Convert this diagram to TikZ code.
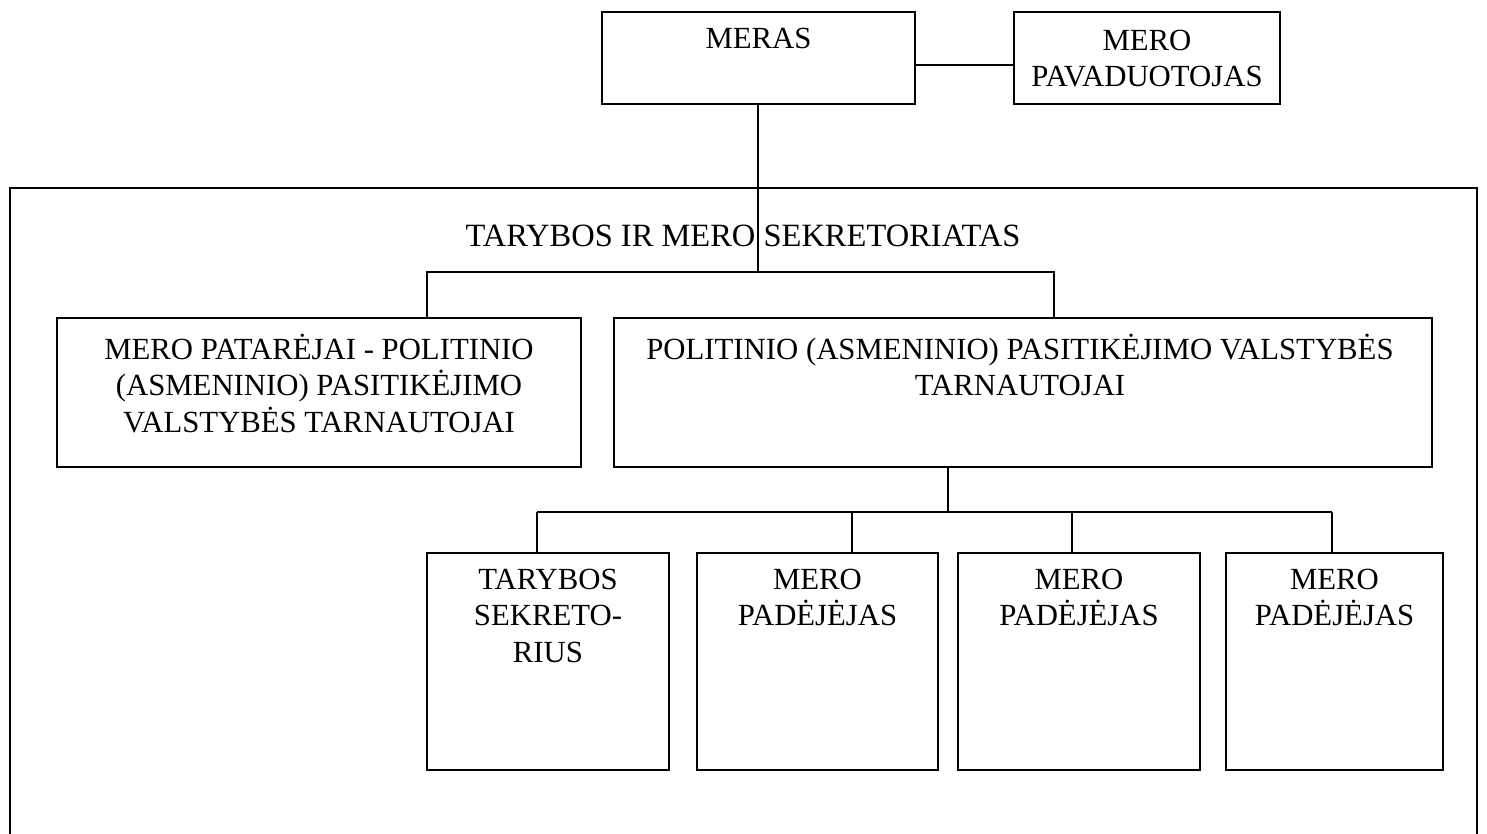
\documentclass[tikz,border=0pt]{standalone}
\usepackage{fontspec}
\setmainfont{Liberation Serif}
\begin{document}
\begin{tikzpicture}[x=0.02cm,y=-0.02cm,
  box/.style={draw, line width=0.9pt, inner sep=0pt},
  conn/.style={line width=1.5pt},
  txt/.style={align=center, inner sep=0pt, font=\fontsize{17.5}{20.6}\selectfont, text depth=0pt}
]
\useasboundingbox (0,0) rectangle (1487,834);
% top
\node[box, minimum width=6.26cm, minimum height=1.84cm] (meras) at (758.5,58) {};
\node[txt, anchor=north] (merast) at (758.5,28) {MERAS};
\node[box, minimum width=5.32cm, minimum height=1.84cm] (pav) at (1147,58) {};
\node[txt] (pavt) at (1147,58) {MERO\\PAVADUOTOJAS};
\draw[conn] (meras.east |- 0,65) -- (pav.west |- 0,65);
% outer frame
\coordinate (fbl) at (10,840);
\coordinate (ftl) at (10,188);
\coordinate (ftr) at (1477,188);
\coordinate (fbr) at (1477,840);
\draw[line width=1.4pt] (fbl) -- (ftl) -- (ftr) -- (fbr);
\node[txt, font=\fontsize{18.5}{21}\selectfont] (sek) at (743,236) {TARYBOS IR MERO SEKRETORIATAS};
% second level
\node[box, minimum width=10.48cm, minimum height=2.98cm] (pat) at (319,392.5) {};
\node[txt, anchor=north] (patt) at (319,334) {MERO PATARĖJAI - POLITINIO\\(ASMENINIO) PASITIKĖJIMO\\VALSTYBĖS TARNAUTOJAI};
\node[box, minimum width=16.36cm, minimum height=2.98cm] (pol) at (1023,392.5) {};
\node[txt, anchor=north] (polt) at (1020,334) {POLITINIO (ASMENINIO) PASITIKĖJIMO VALSTYBĖS\\TARNAUTOJAI};
\coordinate (j1) at (758,272);
\coordinate (j1l) at (427,272);
\coordinate (j1r) at (1054,272);
\draw[conn] (meras.south -| j1) -- (j1);
\draw[conn] (pat.north -| j1l) -- (j1l) -- (j1r) -- (pol.north -| j1r);
% third level
\node[box, minimum width=4.84cm, minimum height=4.34cm] (b1) at (548,661.5) {};
\node[box, minimum width=4.82cm, minimum height=4.34cm] (b2) at (817.5,661.5) {};
\node[box, minimum width=4.84cm, minimum height=4.34cm] (b3) at (1079,661.5) {};
\node[box, minimum width=4.34cm, minimum height=4.34cm] (b4) at (1334.5,661.5) {};
\node[txt, anchor=north] (b1t) at (548,569) {TARYBOS\\SEKRETO-\\RIUS};
\node[txt, anchor=north] (b2t) at (817.5,569) {MERO\\PADĖJĖJAS};
\node[txt, anchor=north] (b3t) at (1079,569) {MERO\\PADĖJĖJAS};
\node[txt, anchor=north] (b4t) at (1334.5,569) {MERO\\PADĖJĖJAS};
\coordinate (j2) at (948,512);
\coordinate (d1) at (537,512);
\coordinate (d2) at (852,512);
\coordinate (d3) at (1072,512);
\coordinate (d4) at (1332,512);
\draw[conn] (pol.south -| j2) -- (j2);
\draw[conn] (d1) -- (d4);
\draw[conn] (d1) -- (b1.north -| d1);
\draw[conn] (d2) -- (b2.north -| d2);
\draw[conn] (d3) -- (b3.north -| d3);
\draw[conn] (d4) -- (b4.north -| d4);
\end{tikzpicture}
\end{document}
